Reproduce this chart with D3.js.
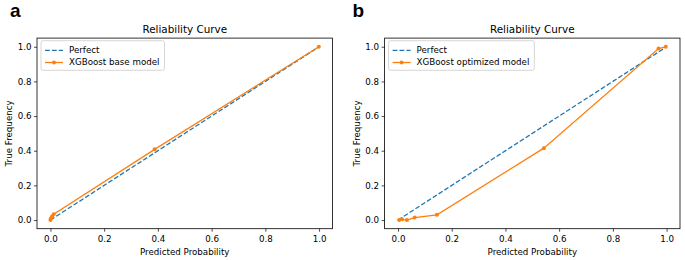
<!DOCTYPE html>
<html lang="en">
<head>
<meta charset="UTF-8">
<title>reliability curves</title>
<style>
	body { margin: 0; background: #fff; }
	text { font-family: "DejaVu Sans", sans-serif; fill: #000; }
</style>
</head>
<body>
<svg id="chart" width="685" height="260"></svg>
<script src="https://cdn.jsdelivr.net/npm/d3@7"></script>
<script>
	// data
	let perfectX = [0, 1]
	let perfectY = [0, 1]

	let baseX = [0.0, 0.002, 0.006, 0.012, 0.388, 0.999]
	let baseY = [0.0, 0.010, 0.020, 0.033, 0.408, 1.0]

	let optX = [0.004, 0.015, 0.033, 0.062, 0.145, 0.543, 0.970, 0.997]
	let optY = [0.0, 0.004, 0.0, 0.014, 0.030, 0.415, 0.990, 1.0]

	let ticks = [0, 0.2, 0.4, 0.6, 0.8, 1.0]
	let titles = ["Reliability Curve", "Reliability Curve"]
	let seriesNames = ["XGBoost base model", "XGBoost optimized model"]
	let panelLetters = ["a", "b"]

	let svg = d3.select("#chart")
	let blue = "#1f77b4"
	let orange = "#ff7f0e"

	function panel(opt)
	{
		let x = d3.scaleLinear().domain([-0.05, 1.05]).range([opt.left, opt.right])
		let y = d3.scaleLinear().domain([-0.05, 1.05]).range([228.7, 38.1])
		let g = svg.append("g")

		g.append("text")
			.attr("x", opt.letterX).attr("y", 16.7)
			.style("font-family", "'Liberation Sans', Arial, sans-serif")
			.style("font-weight", "bold").style("font-size", "19px")
			.text(opt.letter)

		g.append("text")
			.attr("x", (opt.left + opt.right) / 2).attr("y", 32.5)
			.attr("text-anchor", "middle").style("font-size", "10.4px")
			.text(opt.title)

		let line = d3.line().x(d => x(d[0])).y(d => y(d[1]))

		g.append("path")
			.attr("d", line(d3.zip(perfectX, perfectY)))
			.attr("fill", "none").attr("stroke", blue)
			.attr("stroke-width", 1.3).attr("stroke-dasharray", "4.8,2.1")

		let pts = d3.zip(opt.xs, opt.ys)
		g.append("path")
			.attr("d", line(pts))
			.attr("fill", "none").attr("stroke", orange).attr("stroke-width", 1.3)
		g.selectAll("circle.pt").data(pts).enter().append("circle")
			.attr("class", "pt")
			.attr("cx", d => x(d[0])).attr("cy", d => y(d[1]))
			.attr("r", 2).attr("fill", orange)

		let xAxis = g.append("g").attr("transform", "translate(0,228.7)")
			.call(d3.axisBottom(x).tickValues(ticks).tickFormat(d3.format(".1f"))
				.tickSizeInner(3).tickSizeOuter(0).tickPadding(4.5))
		let yAxis = g.append("g").attr("transform", "translate(" + opt.left + ",0)")
			.call(d3.axisLeft(y).tickValues(ticks).tickFormat(d3.format(".1f"))
				.tickSizeInner(3).tickSizeOuter(0).tickPadding(2.5))
		g.selectAll(".tick text").style("font-size", "8.7px").attr("font-family", null)
		g.selectAll(".domain").remove()
		g.selectAll(".tick line").attr("stroke", "#000").attr("stroke-width", 0.7)

		g.append("rect")
			.attr("x", opt.left).attr("y", 38.1)
			.attr("width", opt.right - opt.left).attr("height", 228.7 - 38.1)
			.attr("fill", "none").attr("stroke", "#000").attr("stroke-width", 0.8)

		g.append("text")
			.attr("x", (opt.left + opt.right) / 2).attr("y", 255)
			.attr("text-anchor", "middle").style("font-size", "8.7px")
			.text("Predicted Probability")
		g.append("text")
			.attr("transform", "translate(" + opt.ylabX + "," + (38.1 + 228.7) / 2 + ") rotate(-90)")
			.attr("text-anchor", "middle").style("font-size", "8.7px")
			.text("True Frequency")

		// legend
		let lx = opt.left + 4
		let leg = g.append("g")
		let box = leg.append("rect")
			.attr("x", lx).attr("y", 40.7).attr("height", 29.6)
			.attr("rx", 2).attr("fill", "#fff").attr("fill-opacity", 0.8)
			.attr("stroke", "#cccccc").attr("stroke-width", 0.8)
		leg.append("line")
			.attr("x1", lx + 4).attr("x2", lx + 22).attr("y1", 50.3).attr("y2", 50.3)
			.attr("stroke", blue).attr("stroke-width", 1.3).attr("stroke-dasharray", "4.8,2.1")
		leg.append("line")
			.attr("x1", lx + 4).attr("x2", lx + 22).attr("y1", 62.5).attr("y2", 62.5)
			.attr("stroke", orange).attr("stroke-width", 1.3)
		leg.append("circle").attr("cx", lx + 13).attr("cy", 62.5).attr("r", 2).attr("fill", orange)
		leg.append("text").attr("x", lx + 28).attr("y", 52.5).style("font-size", "8.7px").text("Perfect")
		let t2 = leg.append("text").attr("x", lx + 28).attr("y", 64.7).style("font-size", "8.7px").text(opt.name)
		box.attr("width", 28 + t2.node().getComputedTextLength() + 5)
	}

	panel({left: 37, right: 332.5, letterX: 10, ylabX: 12, letter: panelLetters[0],
		title: titles[0], name: seriesNames[0], xs: baseX, ys: baseY})
	panel({left: 384.6, right: 680, letterX: 352.5, ylabX: 360, letter: panelLetters[1],
		title: titles[1], name: seriesNames[1], xs: optX, ys: optY})
</script>
</body>
</html>
